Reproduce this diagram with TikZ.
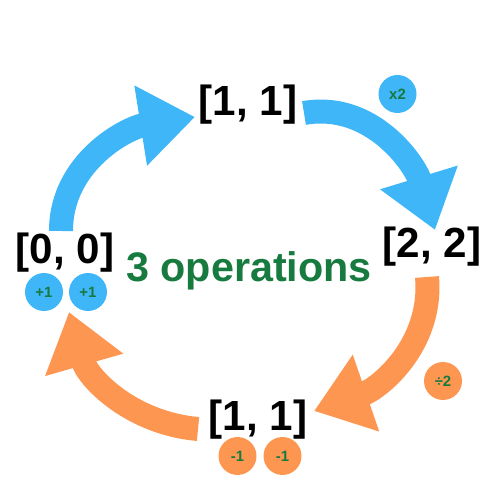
\documentclass[tikz,border=0pt]{standalone}
\usepackage{fontspec}
\setmainfont{Liberation Sans}
\usetikzlibrary{arrows.meta}
\definecolor{opblue}{RGB}{63,182,248}
\definecolor{oporange}{RGB}{253,150,81}
\definecolor{opgreen}{RGB}{23,122,62}
\begin{document}
\begin{tikzpicture}[
	x=0.02cm, y=0.02cm,
	vec/.style={ inner sep=0pt, font=\fontsize{24}{28}\selectfont\bfseries },
	opb/.style={ circle, fill=opblue, inner sep=0pt, minimum size=0.76cm, text=opgreen, font=\fontsize{8.5}{9}\selectfont\bfseries },
	opo/.style={ circle, fill=oporange, inner sep=0pt, minimum size=0.76cm, text=opgreen, font=\fontsize{8.5}{9}\selectfont\bfseries },
	arrb/.style={ opblue, line width=0.48cm, line cap=butt, -{Triangle[length=1.1cm,width=1.55cm]} },
	arro/.style={ oporange, line width=0.48cm, line cap=butt, -{Triangle[length=1.1cm,width=1.55cm]} }
]
\useasboundingbox (0,0) rectangle (500,500);

\node at (65,247) (v00) [vec] {[0, 0]};
\node at (248,395) (v11a) [vec] {[1, 1]};
\node at (432,253) (v22) [vec] {[2, 2]};
\node at (258,80) (v11b) [vec] {[1, 1]};

\node at (249,229) (ops) [inner sep=0pt, text=opgreen, font=\fontsize{23.5}{28}\selectfont\bfseries] {3 operations};

\node at (44,208) (inc1) [opb] {+1};
\node at (88,208) (inc2) [opb] {+1};
\node at (397.5,406) (dbl) [opb] {x2};
\node at (443,119) (half) [opo] {÷2};
\node at (237.5,44) (dec1) [opo] {-1};
\node at (282.5,44) (dec2) [opo] {-1};

\coordinate (a1s) at (61,269);
\coordinate (a1e) at (195,383);
\coordinate (a2s) at (304,387);
\coordinate (a2e) at (435,270);
\coordinate (a3s) at (427,223);
\coordinate (a3e) at (314,89);
\coordinate (a4s) at (198,71);
\coordinate (a4e) at (69,188);

\draw[arrb] (a1s) to [out=90,in=189] (a1e);
\draw[arrb] (a2s) to [out=10,in=107] (a2e);
\draw[arro] (a3s) to [out=-85,in=19] (a3e);
\draw[arro] (a4s) to [out=175,in=-74] (a4e);

\end{tikzpicture}
\end{document}
